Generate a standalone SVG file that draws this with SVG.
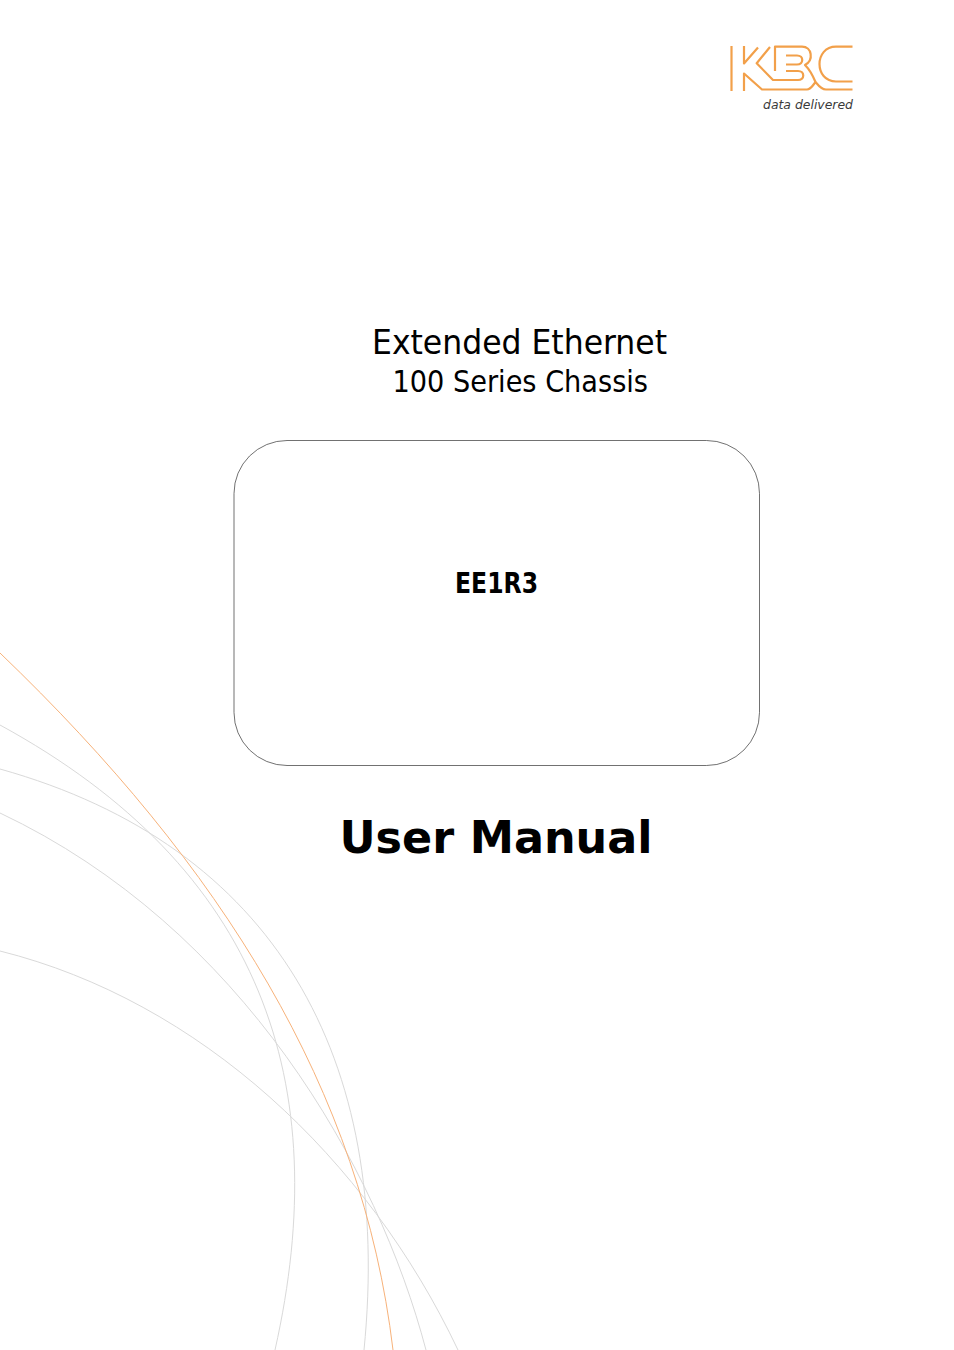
<svg xmlns="http://www.w3.org/2000/svg" width="954" height="1350" viewBox="0 0 954 1350">
<style>
.t{font-family:"DejaVu Sans Condensed","DejaVu Sans",sans-serif;font-stretch:condensed;fill:#000;text-anchor:start}
.arc{fill:none;stroke:#d9d9d9;stroke-width:1}
.logo{fill:none;stroke:#f2a04a;stroke-width:2.2;stroke-linejoin:round}
</style>
<rect width="954" height="1350" fill="#fff"/>
<g id="swooshes">
<path class="arc" d="M0,725C262,868 335,1083 275,1350"/>
<path class="arc" d="M0,769C275,846 393,1058 364,1350"/>
<path class="arc" d="M0,813C243,928 378,1168 426,1350"/>
<path class="arc" d="M0,951C200,1001 367,1158 458,1350"/>
<path d="M0,653C222,866 362,1090 393,1350" fill="none" stroke="#f7b27a" stroke-width="1"/>
</g>
<g id="logo">
<path class="logo" d="M731.5,46V91"/>
<path class="logo" d="M744,46V63.5L758,47.5"/>
<path class="logo" d="M770,47L756.7,63.3L773,80H798C805,80 805,71 798,71H786"/>
<path class="logo" d="M775,71V46.7H802C812,46.7 814,60 805,65C810,70 813,76 815.5,82"/>
<path class="logo" d="M786,55.5H797C804,55.5 804,64.5 797,64.5H786"/>
<path class="logo" d="M744,91V73.5L762,89.5H807C811,89.5 813,85 815.5,82C818,85 821,89.5 826,89.5H852.5"/>
<path class="logo" d="M852.5,46.7H836C814,46.7 814,81.5 836,81.5H852.5"/>
<text x="763" y="108.5" font-family="'DejaVu Sans','Liberation Sans',sans-serif" font-style="italic" font-size="12" fill="#3a3a3a" textLength="90" lengthAdjust="spacingAndGlyphs">data delivered</text>
</g>
<g id="title">
<text class="t" x="372" y="354" font-size="34" textLength="295" lengthAdjust="spacingAndGlyphs">Extended Ethernet</text>
<text class="t" x="392.5" y="392" font-size="30" textLength="255.5" lengthAdjust="spacingAndGlyphs">100 Series Chassis</text>
</g>
<g id="box">
<rect x="234" y="440.5" width="525.5" height="325" rx="53" ry="53" fill="none" stroke="#333" stroke-width=".7"/>
<text class="t" x="455" y="593" font-size="27.5" font-weight="700" textLength="83" lengthAdjust="spacingAndGlyphs">EE1R3</text>
</g>
<g id="heading">
<text x="339.5" y="853" font-family="'DejaVu Sans',sans-serif" font-weight="700" font-size="44" textLength="313" lengthAdjust="spacingAndGlyphs">User Manual</text>
</g>
</svg>
